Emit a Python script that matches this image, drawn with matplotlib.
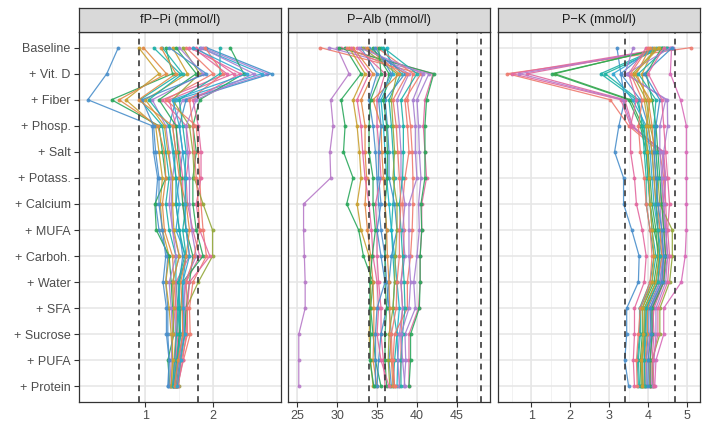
import matplotlib
matplotlib.use("Agg")
import matplotlib.pyplot as plt
import numpy as np

plt.rcParams['font.family'] = ['Liberation Sans', 'DejaVu Sans']

steps = ['Baseline', '+ Vit. D', '+ Fiber', '+ Phosp.', '+ Salt', '+ Potass.',
         '+ Calcium', '+ MUFA', '+ Carboh.', '+ Water', '+ SFA', '+ Sucrose',
         '+ PUFA', '+ Protein']

# fP-Pi (mmol/l), one row per individual
pi_vals = [
    [0.60, 0.43, 0.15, 1.10, 1.12, 1.18, 1.15, 1.20, 1.33, 1.30, 1.33, 1.33, 1.35, 1.34],
    [0.90, 1.20, 0.71, 1.15, 1.20, 1.25, 1.22, 1.25, 1.35, 1.30, 1.35, 1.38, 1.40, 1.38],
    [1.30, 1.40, 0.50, 1.20, 1.25, 1.30, 1.14, 1.16, 1.35, 1.38, 1.40, 1.42, 1.33, 1.36],
    [0.97, 1.31, 0.61, 1.18, 1.28, 1.30, 1.25, 1.28, 1.40, 1.42, 1.45, 1.45, 1.42, 1.40],
    [1.12, 1.51, 0.92, 1.25, 1.30, 1.35, 1.30, 1.35, 1.45, 1.45, 1.48, 1.50, 1.45, 1.42],
    [1.85, 2.80, 1.55, 1.40, 1.45, 1.40, 1.38, 1.40, 1.50, 1.40, 1.42, 1.45, 1.44, 1.40],
    [1.90, 2.86, 1.60, 1.50, 1.55, 1.50, 1.45, 1.50, 1.55, 1.50, 1.50, 1.52, 1.48, 1.45],
    [1.80, 2.72, 1.45, 1.35, 1.40, 1.45, 1.50, 1.45, 1.60, 1.55, 1.55, 1.55, 1.50, 1.46],
    [1.75, 2.30, 1.35, 1.45, 1.50, 1.55, 1.55, 1.60, 1.65, 1.45, 1.45, 1.48, 1.45, 1.42],
    [1.70, 2.20, 1.25, 1.60, 1.65, 1.60, 1.62, 1.70, 1.80, 1.60, 1.55, 1.55, 1.50, 1.45],
    [2.25, 2.45, 1.80, 1.70, 1.75, 1.70, 1.70, 1.75, 1.85, 1.55, 1.52, 1.50, 1.47, 1.44],
    [2.10, 2.10, 1.50, 1.55, 1.60, 1.58, 1.60, 1.55, 1.60, 1.50, 1.48, 1.46, 1.43, 1.40],
    [1.60, 2.00, 1.30, 1.75, 1.78, 1.80, 1.82, 1.85, 1.90, 1.70, 1.65, 1.66, 1.56, 1.47],
    [1.55, 1.80, 1.40, 1.65, 1.70, 1.72, 1.85, 1.99, 1.99, 1.78, 1.60, 1.58, 1.52, 1.49],
    [1.50, 1.85, 1.10, 1.30, 1.35, 1.38, 1.35, 1.40, 1.45, 1.35, 1.38, 1.40, 1.38, 1.36],
    [1.40, 1.62, 1.00, 1.28, 1.33, 1.40, 1.40, 1.42, 1.50, 1.40, 1.42, 1.40, 1.40, 1.38],
    [1.45, 1.75, 1.20, 1.45, 1.48, 1.52, 1.55, 1.60, 1.70, 1.65, 1.60, 1.58, 1.50, 1.45],
    [1.35, 1.90, 0.95, 1.12, 1.15, 1.20, 1.20, 1.25, 1.30, 1.26, 1.31, 1.31, 1.35, 1.33],
    [1.65, 2.40, 1.70, 1.78, 1.82, 1.82, 1.75, 1.80, 1.95, 1.65, 1.62, 1.60, 1.55, 1.48],
    [1.25, 1.55, 1.05, 1.35, 1.42, 1.45, 1.45, 1.50, 1.58, 1.48, 1.50, 1.52, 1.46, 1.41],
    [1.82, 2.60, 1.75, 1.60, 1.62, 1.65, 1.65, 1.68, 1.75, 1.58, 1.58, 1.56, 1.50, 1.44],
    [1.23, 1.45, 0.90, 1.40, 1.45, 1.50, 1.60, 1.65, 1.60, 1.52, 1.54, 1.55, 1.48, 1.43],
    [1.88, 2.15, 1.65, 1.70, 1.72, 1.75, 1.78, 1.80, 1.72, 1.60, 1.62, 1.62, 1.53, 1.46],
    [1.70, 2.50, 1.40, 1.50, 1.55, 1.60, 1.58, 1.60, 1.65, 1.55, 1.56, 1.58, 1.52, 1.47],
]

# P-Alb
alb_vals = [
    [30.0, 31.5, 29.2, 29.5, 29.1, 29.2, 25.8, 25.8, 25.9, 26.0, 26.0, 25.2, 25.2, 25.2],
    [31.0, 33.0, 30.5, 31.0, 30.8, 32.0, 31.2, 32.7, 33.3, 34.5, 34.2, 34.5, 34.8, 35.5],
    [27.9, 40.5, 38.5, 38.8, 39.0, 38.5, 38.2, 38.4, 38.3, 38.0, 38.2, 38.0, 38.0, 37.8],
    [29.0, 41.5, 40.0, 40.2, 40.3, 40.5, 40.2, 40.3, 40.0, 39.6, 39.8, 38.5, 38.6, 38.4],
    [30.5, 42.0, 41.0, 40.8, 41.0, 41.2, 40.6, 40.6, 40.4, 40.4, 40.2, 39.0, 39.0, 39.0],
    [30.2, 42.1, 41.2, 41.0, 41.0, 41.0, 40.5, 40.6, 40.4, 40.4, 40.3, 39.2, 39.2, 39.0],
    [35.5, 38.0, 36.5, 36.8, 37.0, 37.2, 37.0, 36.8, 37.0, 37.2, 37.0, 37.5, 37.2, 37.0],
    [36.2, 37.0, 35.5, 35.8, 36.0, 36.2, 36.5, 36.8, 37.2, 37.5, 37.8, 37.5, 37.6, 37.5],
    [33.0, 35.0, 34.0, 34.5, 34.8, 35.0, 35.2, 35.5, 36.0, 36.2, 36.5, 36.8, 36.5, 36.8],
    [32.0, 34.5, 33.0, 33.5, 33.5, 33.7, 33.5, 33.8, 34.2, 34.5, 34.6, 34.6, 34.5, 35.0],
    [31.5, 33.5, 32.0, 32.5, 32.8, 33.0, 32.5, 33.0, 34.0, 34.2, 34.2, 34.0, 34.2, 34.5],
    [32.5, 36.0, 35.0, 35.0, 35.3, 35.5, 34.8, 35.0, 35.0, 35.2, 35.5, 35.5, 35.8, 36.0],
    [33.5, 39.0, 37.5, 37.8, 38.0, 38.0, 38.5, 38.2, 38.5, 38.0, 38.2, 37.8, 37.6, 37.8],
    [34.0, 38.5, 36.0, 36.3, 36.5, 36.5, 37.2, 37.5, 36.8, 36.5, 36.2, 35.5, 35.2, 35.0],
    [34.5, 36.5, 35.8, 36.2, 36.3, 36.3, 36.0, 36.2, 36.0, 36.0, 36.2, 36.0, 36.0, 36.2],
    [35.0, 39.5, 38.8, 39.2, 39.4, 39.5, 39.5, 39.4, 39.2, 38.8, 38.8, 37.2, 37.0, 37.2],
    [33.2, 37.5, 36.8, 37.0, 37.2, 37.0, 37.5, 37.5, 37.3, 37.2, 37.0, 36.5, 36.4, 36.6],
    [35.8, 40.0, 38.0, 38.3, 38.3, 38.2, 37.8, 38.0, 38.2, 38.4, 38.5, 38.2, 38.0, 38.0],
    [31.8, 34.0, 32.5, 33.0, 33.2, 33.5, 34.0, 34.3, 34.5, 35.0, 35.2, 35.0, 35.5, 36.5],
    [33.8, 37.8, 34.5, 35.5, 35.6, 35.8, 36.0, 36.2, 36.3, 36.5, 36.6, 36.6, 36.8, 37.0],
    [34.8, 36.8, 35.2, 35.5, 35.2, 35.2, 35.5, 35.0, 35.5, 36.0, 35.0, 34.8, 34.8, 34.8],
    [32.8, 40.8, 39.5, 39.8, 39.8, 40.0, 39.0, 39.0, 39.0, 39.2, 39.0, 38.0, 38.2, 38.5],
    [35.2, 35.5, 34.2, 34.0, 34.0, 34.5, 34.5, 34.8, 34.4, 34.1, 34.1, 34.2, 34.1, 34.6],
    [31.2, 38.8, 37.0, 37.4, 37.6, 37.8, 38.0, 37.8, 37.8, 37.5, 37.4, 36.8, 36.9, 37.2],
]

# P-K
k_vals = [
    [3.20, 3.30, 3.40, 3.25, 3.14, 3.37, 3.37, 3.58, 3.77, 3.75, 3.45, 3.45, 3.40, 3.50],
    [4.60, 4.57, 4.83, 4.98, 4.98, 4.98, 4.98, 4.98, 4.95, 4.85, 4.40, 4.40, 4.20, 4.17],
    [5.09, 0.39, 3.03, 3.50, 4.30, 4.40, 4.35, 4.40, 4.45, 4.35, 4.10, 4.05, 4.00, 4.05],
    [4.55, 0.51, 3.30, 3.55, 4.40, 4.45, 4.40, 4.45, 4.50, 4.40, 4.15, 4.10, 4.05, 4.05],
    [4.50, 0.90, 3.40, 3.60, 4.38, 4.42, 4.45, 4.48, 4.45, 4.38, 4.12, 4.15, 4.10, 4.10],
    [4.65, 0.70, 3.35, 3.58, 4.35, 4.45, 4.38, 4.42, 4.40, 4.35, 4.08, 4.12, 4.05, 4.08],
    [4.45, 1.54, 3.50, 3.80, 3.95, 4.00, 4.05, 4.15, 4.30, 4.20, 3.90, 3.90, 3.85, 3.85],
    [4.40, 1.60, 3.55, 3.85, 4.00, 4.05, 4.10, 4.20, 4.25, 4.15, 3.85, 3.85, 3.80, 3.82],
    [4.30, 2.78, 3.70, 3.90, 3.95, 4.00, 4.05, 4.10, 4.20, 4.10, 3.80, 3.80, 3.75, 3.78],
    [4.35, 2.90, 3.75, 3.85, 3.90, 3.95, 3.95, 4.05, 4.15, 4.05, 3.78, 3.78, 3.72, 3.75],
    [4.20, 3.10, 3.60, 3.95, 4.05, 4.10, 4.15, 4.25, 4.35, 4.25, 3.95, 3.95, 3.90, 3.90],
    [4.10, 3.30, 3.80, 4.00, 4.10, 4.15, 4.20, 4.30, 4.40, 4.30, 4.00, 4.00, 3.95, 3.95],
    [3.62, 3.40, 4.49, 4.50, 4.40, 4.35, 4.30, 4.35, 4.38, 4.30, 4.05, 4.05, 3.95, 3.98],
    [4.25, 3.60, 3.95, 4.05, 4.20, 4.25, 4.30, 4.62, 4.62, 4.55, 4.30, 4.30, 4.10, 4.12],
    [4.15, 3.85, 3.90, 4.00, 4.10, 4.15, 4.20, 4.25, 4.28, 4.20, 3.92, 3.92, 3.85, 3.88],
    [4.05, 3.70, 4.00, 4.10, 4.15, 4.20, 4.25, 4.30, 4.35, 4.25, 3.98, 3.98, 3.92, 3.92],
    [3.95, 3.50, 3.70, 3.55, 3.55, 3.65, 3.70, 3.85, 3.95, 3.90, 3.65, 3.65, 3.62, 3.65],
    [4.35, 3.95, 4.10, 4.20, 4.25, 4.30, 4.35, 4.40, 4.45, 4.40, 4.10, 4.10, 4.05, 4.05],
    [4.48, 3.75, 4.20, 4.15, 4.20, 4.25, 4.20, 4.25, 4.30, 4.25, 3.95, 3.92, 3.90, 3.92],
    [4.58, 3.45, 4.45, 4.30, 4.30, 4.35, 4.40, 4.45, 4.50, 4.45, 4.20, 4.20, 4.15, 4.12],
    [4.00, 3.55, 3.85, 3.75, 3.80, 3.90, 3.95, 4.05, 4.10, 4.05, 3.80, 3.75, 3.70, 3.72],
    [4.62, 3.90, 4.30, 4.20, 4.15, 4.20, 4.25, 4.35, 4.40, 4.35, 4.05, 4.08, 4.00, 4.00],
    [4.40, 4.00, 4.35, 4.40, 4.45, 4.50, 4.55, 4.50, 4.55, 4.50, 4.25, 4.25, 4.12, 4.15],
    [4.28, 3.65, 4.05, 3.95, 3.98, 4.02, 4.05, 4.10, 4.15, 4.10, 3.85, 3.88, 3.82, 3.85],
]

# colour per individual
line_cols = ['#4A8FCB', '#C9A030', '#2BA85C', '#E08A45', '#1DB0A8', '#A77FD0',
             '#3D8FC9', '#2FA6D1', '#E3689F', '#E0669E', '#2BA85C', '#1DB0A8',
             '#EE7A6E', '#93A83A', '#A77FD0', '#C9A030', '#2BA85C', '#4A8FCB',
             '#E3689F', '#1DB0A8', '#A77FD0', '#E08A45', '#EE7A6E', '#2FA6D1']
alb_cols = ['#B77AC8', '#2BA85C', '#EE7A6E', '#A77FD0', '#E3689F', '#2BA85C',
            '#1DB0A8', '#19B4C9', '#4A8FCB', '#E08A45', '#C9A030', '#E3689F',
            '#A77FD0', '#3D8FC9', '#2BA85C', '#EE7A6E', '#93A83A', '#1DB0A8',
            '#E3689F', '#E08A45', '#4A8FCB', '#A77FD0', '#2BA85C', '#EE7A6E']
k_cols = ['#4A8FCB', '#D86BB8', '#EE7A6E', '#E3689F', '#E0669E', '#B77AC8',
          '#2BA85C', '#3AA84C', '#1DB0A8', '#19B4A0', '#2FA6D1', '#4A8FCB',
          '#A77FD0', '#93A83A', '#C9A030', '#E08A45', '#E3689F', '#2BA85C',
          '#1DB0A8', '#A77FD0', '#EE7A6E', '#3D8FC9', '#E3689F', '#C9A030']

panels = [
    ('fP\u2212Pi (mmol/l)', pi_vals, line_cols, [0.9, 1.78], (0.02, 3.0),
     [1, 2], np.arange(0.5, 3.0, 0.5)),
    ('P\u2212Alb (mmol/l)', alb_vals, alb_cols, [34, 36, 45, 48], (23.85, 49.15),
     [25, 30, 35, 40, 45], np.arange(25, 50, 2.5)),
    ('P\u2212K (mmol/l)', k_vals, k_cols, [3.4, 4.7], (0.15, 5.33),
     [1, 2, 3, 4, 5], np.arange(0.5, 5.5, 0.5)),
]

W, H = 709, 437
fig = plt.figure(figsize=(W / 100, H / 100), dpi=100)
lefts = [79, 288, 498]
pw = 202
top, bottom = 32, 402

ypos = np.arange(len(steps))
for i, (title, vals, cols, refs, xlim, ticks, minors) in enumerate(panels):
    ax = fig.add_axes([lefts[i] / W, (H - bottom) / H, pw / W, (bottom - top) / H])
    for xm in minors:
        ax.axvline(xm, color='#F0F0F0', lw=0.6, zorder=0)
    for xt in ticks:
        ax.axvline(xt, color='#E6E6E6', lw=1.1, zorder=0)
    for yy in ypos:
        ax.axhline(yy, color='#E6E6E6', lw=1.1, zorder=0)
    for j, row in enumerate(vals):
        ax.plot(row, ypos, color=cols[j % len(cols)], lw=0.9, marker='o',
                ms=2.8, mec='none', alpha=0.9, zorder=2)
    for r in refs:
        ax.axvline(r, color='#3A3A3A', lw=1.2, ls=(0, (3.5, 3)), zorder=3)
    ax.set_xlim(*xlim)
    ax.set_ylim(len(steps) - 0.4, -0.6)
    ax.set_xticks(ticks)
    ax.set_xticklabels([str(t) for t in ticks])
    ax.set_yticks(ypos)
    ax.tick_params(colors='#333333', labelcolor='#4D4D4D', labelsize=9,
                   width=0.8, length=3.5, pad=2.5)
    if i == 0:
        ax.set_yticklabels(steps)
    else:
        ax.set_yticklabels([])
        ax.tick_params(axis='y', length=0)
    for sp in ax.spines.values():
        sp.set_color('#333333')
        sp.set_linewidth(0.9)

    # facet strip
    sax = fig.add_axes([lefts[i] / W, (H - top) / H, pw / W, 24 / H])
    sax.set_facecolor('#D9D9D9')
    sax.set_xticks([])
    sax.set_yticks([])
    for sp in sax.spines.values():
        sp.set_color('#333333')
        sp.set_linewidth(0.9)
    sax.text(0.5, 0.5, title, ha='center', va='center', fontsize=9.2,
             color='#1A1A1A', transform=sax.transAxes)

fig.savefig('out.png', dpi=100)
